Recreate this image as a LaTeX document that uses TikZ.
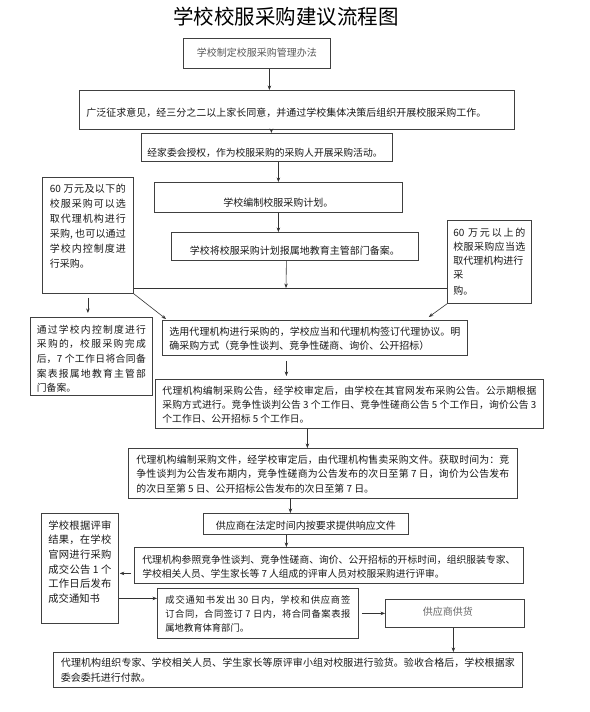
\documentclass[tikz,border=0pt]{standalone}
\usepackage{fontspec}
\setmainfont{Noto Sans CJK SC}
\usetikzlibrary{arrows.meta}
\XeTeXlinebreaklocale "zh"
\XeTeXlinebreakskip=0pt plus 1.5pt
\begin{document}
\begin{tikzpicture}[x=1pt,y=-1pt,
  bx/.style={draw=black!75, line width=0.8pt, anchor=north west, inner ysep=0pt, text=black!90},
  arr/.style={draw=black!80, line width=0.6pt, -{Stealth[length=4.5pt,width=3.5pt]}},
  plain/.style={draw=black!80, line width=0.6pt}]
\useasboundingbox (0,0) rectangle (589,712);
\fill[white] (0,0) rectangle (589,712);
\node[font=\fontsize{20.5}{24}\selectfont] (title) at (286,17) {学校校服采购建议流程图};
% boxes
\node[bx, text=black!65, font=\fontsize{10}{14}\selectfont, minimum width=147pt, text height=17.8pt, text depth=12.2pt] (b1) at (183,38) {学校制定校服采购管理办法};
\node[bx, font=\fontsize{10}{14}\selectfont, text width=421pt, inner xsep=7pt, text height=25.8pt, text depth=13.2pt, align=left] (b2) at (79,90) {广泛征求意见，经三分之二以上家长同意，并通过学校集体决策后组织开展校服采购工作。};
\node[bx, font=\fontsize{9.8}{14}\selectfont, text width=239pt, inner xsep=6pt, text height=23.5pt, text depth=4.5pt, align=left] (b3) at (141,133) {经家委会授权，作为校服采购的采购人开展采购活动。};
\node[bx, font=\fontsize{10}{14}\selectfont, minimum width=248pt, text height=23.8pt, text depth=6.2pt] (b4) at (154,182) {学校编制校服采购计划。};
\node[bx, font=\fontsize{10}{14}\selectfont, minimum width=247pt, text height=21.8pt, text depth=6.2pt] (b5) at (171,232) {学校将校服采购计划报属地教育主管部门备案。};
\node[bx, font=\fontsize{10}{15}\selectfont, text width=76pt, inner xsep=7.5pt, text height=14.8pt, text depth=101.2pt, align=justify] (ln) at (42,177) {60 万元及以下的\linebreak 校服采购可以选\linebreak 取代理机构进行\linebreak 采购, 也可以通过\linebreak 学校内控制度进\linebreak 行采购。};
\node[bx, font=\fontsize{10}{14}\selectfont, text width=72pt, inner xsep=6pt, text height=16.5pt, text depth=66.5pt, align=justify] (rn) at (447,220) {60 万元以上的\linebreak 校服采购应当选\linebreak 取代理机构进行\\ 采\\[2pt] 购。};
\node[bx, font=\fontsize{9.8}{14.6}\selectfont, text width=109pt, inner xsep=6.5pt, text height=15.8pt, text depth=62.2pt, align=justify] (ib) at (30,317) {通过学校内控制度进行\linebreak 采购的，校服采购完成\linebreak 后，7 个工作日将合同备\linebreak 案表报属地教育主管部\linebreak 门备案。};
\node[bx, font=\fontsize{10}{14}\selectfont, text width=291pt, inner xsep=7pt, text height=15.5pt, text depth=19.5pt, align=justify] (sel) at (162,320) {选用代理机构进行采购的，学校应当和代理机构签订代理协议。明\linebreak 确采购方式（竞争性谈判、竞争性磋商、询价、公开招标）};
\node[bx, font=\fontsize{9.8}{14}\selectfont, text width=374pt, inner xsep=7pt, text height=14.8pt, text depth=34.2pt, align=justify] (b6) at (155,379) {代理机构编制采购公告，经学校审定后，由学校在其官网发布采购公告。公示期根据\linebreak 采购方式进行。竞争性谈判公告 3 个工作日、竞争性磋商公告 5 个工作日，询价公告 3\linebreak 个工作日、公开招标 5 个工作日。};
\node[bx, font=\fontsize{9.9}{14.5}\selectfont, text width=373pt, inner xsep=8pt, text height=14.8pt, text depth=35.2pt, align=justify] (b7) at (128,448) {代理机构编制采购文件，经学校审定后，由代理机构售卖采购文件。获取时间为：竞\linebreak 争性谈判为公告发布期内，竞争性磋商为公告发布的次日至第 7 日，询价为公告发布\linebreak 的次日至第 5 日、公开招标公告发布的次日至第 7 日。};
\node[bx, font=\fontsize{10}{14}\selectfont, minimum width=205pt, text height=15.8pt, text depth=5.2pt] (b8) at (203,513) {供应商在法定时间内按要求提供响应文件};
\node[bx, font=\fontsize{9.75}{14}\selectfont, text width=373pt, inner xsep=8pt, text height=15.8pt, text depth=20.2pt, align=justify] (b9) at (134,547) {代理机构参照竞争性谈判、竞争性磋商、询价、公开招标的开标时间，组织服装专家、\linebreak 学校相关人员、学生家长等 7 人组成的评审人员对校服采购进行评审。};
\node[bx, font=\fontsize{10.3}{14.6}\selectfont, text width=63pt, inner xsep=7pt, text height=15.8pt, text depth=94.2pt, align=justify] (lb) at (41,513) {学校根据评审\linebreak 结果，在学校\linebreak 官网进行采购\linebreak 成交公告 1 个\linebreak 工作日后发布\linebreak 成交通知书};
\node[bx, font=\fontsize{9.3}{14}\selectfont, text width=185pt, inner xsep=8pt, text height=14.8pt, text depth=35.2pt, align=justify] (b10) at (157,588) {成交通知书发出 30 日内，学校和供应商签\linebreak 订合同，合同签订 7 日内，将合同备案表报\linebreak 属地教育体育部门。};
\node[bx, text=black!60, font=\fontsize{10}{14}\selectfont, minimum width=139pt, text height=15.8pt, text depth=12.2pt] (b11) at (385,599) {\hspace*{-14pt}供应商供货};
\node[bx, font=\fontsize{10}{15}\selectfont, text width=454pt, inner xsep=7.5pt, text height=13.8pt, text depth=21.2pt, align=justify] (b12) at (53,652) {代理机构组织专家、学校相关人员、学生家长等原评审小组对校服进行验货。验收合格后，学校根据家\linebreak 委会委托进行付款。};
% connectors
\coordinate (j) at (286,288);
\draw[arr] ([xshift=12.5pt]b1.south) -- ([xshift=12.5pt]b1.south |- b2.north);
\draw[arr] ([xshift=-25.5pt]b2.south) -- ([xshift=-25.5pt]b2.south |- b3.north);
\draw[arr] ([xshift=11.5pt]b3.south) -- ([xshift=11.5pt]b3.south |- b4.north);
\draw[arr] (b4.south) -- (b5.north -| b4.south);
\draw[arr] ([xshift=-8.5pt]b5.south) -- (j);
\draw[plain] (ln.east |- j) -- (rn.west |- j);
\draw[arr, shorten <=4pt, shorten >=4pt] (ln.south) -- (ln.south |- ib.north);
\draw[arr] (ln.south east) -- ([xshift=4pt,yshift=1pt]sel.north west);
\draw[arr] (rn.south west) -- ([xshift=-39pt,yshift=3pt]sel.north east);
\draw[arr, shorten <=5pt, shorten >=3pt] ([xshift=-28.5pt]sel.south) -- ([xshift=-28.5pt]sel.south |- b6.north);
\draw[arr] ([xshift=-42pt]b6.south) -- ([xshift=-42pt]b6.south |- b7.north);
\draw[arr] ([xshift=-32.5pt]b7.south) -- ([xshift=-32.5pt]b7.south |- b8.north);
\draw[arr] ([xshift=-19.5pt]b8.south) -- ([xshift=-19.5pt]b8.south |- b9.north);
\draw[arr, shorten <=3pt, shorten >=1pt] ([yshift=-8pt]b9.west) -- ([yshift=-8pt]b9.west -| lb.east);
\draw[arr] ([yshift=-30pt]lb.east) -- ([yshift=-30pt]lb.east -| b10.west);
\draw[arr, shorten <=3pt] (b10.east) -- (b10.east -| b11.west);
\draw[arr] ([xshift=-1.5pt]b11.south) -- ([xshift=-1.5pt]b11.south |- b12.north);
\end{tikzpicture}
\end{document}
